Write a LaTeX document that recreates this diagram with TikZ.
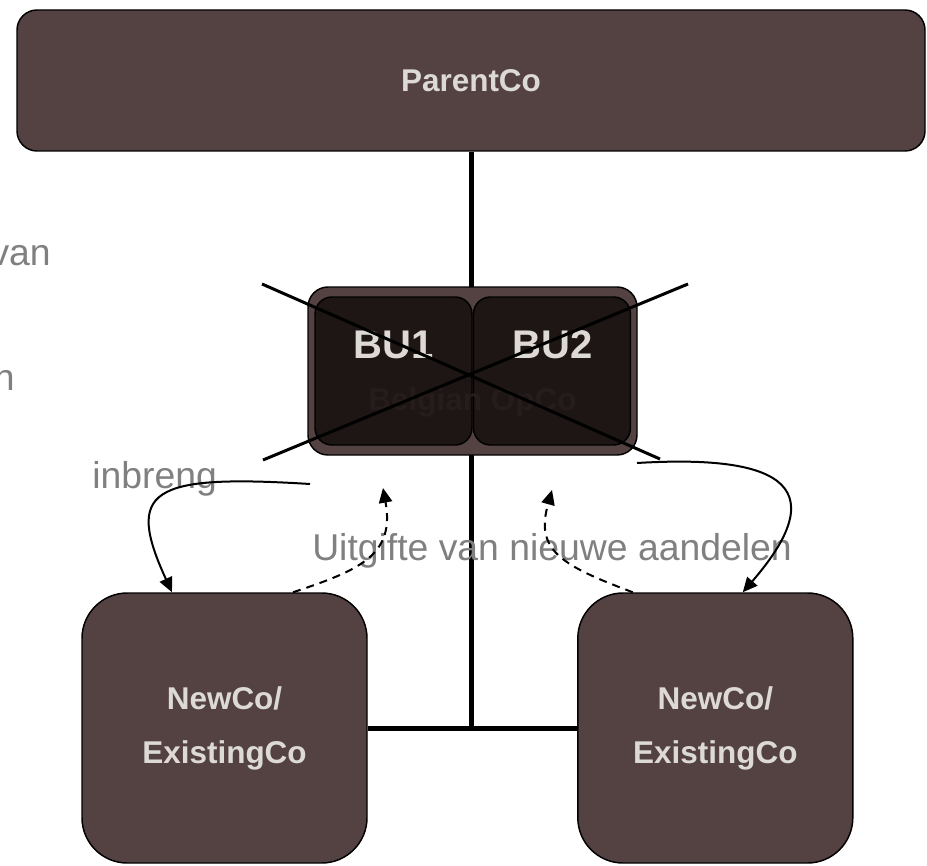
\documentclass[tikz,border=0pt]{standalone}
\usepackage{fontspec}
\setmainfont{Liberation Sans}
\usepackage{tikz}
\usetikzlibrary{arrows.meta, positioning, backgrounds}

\definecolor{cobrown}{RGB}{84,66,66}
\definecolor{budark}{RGB}{30,21,21}
\definecolor{colabel}{RGB}{221,218,213}
\definecolor{notegray}{RGB}{128,128,128}
\definecolor{ghost}{RGB}{38,28,28}

\begin{document}
\begin{tikzpicture}[x=0.75pt,y=-0.75pt]
  \tikzstyle{company}=[draw=black,line width=1.1pt,fill=cobrown,text=colabel,
    font=\fontsize{23.6}{40.5}\selectfont\bfseries,align=center]
  \tikzstyle{unit}=[draw=black,line width=1.1pt,fill=budark,rounded corners=12.75pt,
    minimum width=117.75pt,minimum height=111pt]
  \tikzstyle{bulabel}=[text=colabel,font=\fontsize{30}{36}\selectfont\bfseries,inner sep=0pt,anchor=base]
  \tikzstyle{note}=[text=notegray,font=\fontsize{28}{34}\selectfont,inner sep=0pt]
  \tikzstyle{trunk}=[line width=3.75pt]
  \tikzstyle{crossline}=[line width=2.25pt]
  \tikzstyle{flow}=[line width=1.5pt,-{Triangle[length=11pt,width=10pt]}]
  \tikzstyle{issue}=[flow,dash pattern=on 6pt off 4.5pt]

  \useasboundingbox (0,0) rectangle (927,866);

  \node[company,rounded corners=15pt,minimum width=681pt,minimum height=105.75pt]
    (parent) at (471,80.5) {ParentCo};
  \node[company,rounded corners=15pt,minimum width=246.75pt,minimum height=126pt]
    (opco) at (472.5,371) {};
  \node[unit] (bu1) at (393.5,371) {};
  \node[unit] (bu2) [right=0pt of bu1] {};
  \node[company,rounded corners=34pt,minimum width=213.75pt,minimum height=202.5pt]
    (n1) at (224.5,728) {NewCo/\\ExistingCo};
  \node[company,rounded corners=34pt,minimum width=206.25pt,minimum height=202.5pt]
    (n2) [right=157pt of n1] {NewCo/\\ExistingCo};

  \node[bulabel] (bu1txt) at (393.5,358) {BU1};
  \node[bulabel] (bu2txt) at (552.5,358) {BU2};
  \node[bulabel,text=ghost,font=\fontsize{23.6}{28}\selectfont\bfseries]
    (opcotxt) at (472.5,410) {Belgian OpCo};

  % holding lines behind the boxes
  \begin{pgfonlayer}{background}
    \draw[trunk] (parent.south) -- (parent.south |- n1.east);
    \draw[trunk] (n1.east) -- (n2.west);
  \end{pgfonlayer}

  % struck out
  \draw[crossline] (262,284) -- (660,459);
  \draw[crossline] (688,284) -- (263,460);

  \node[note,anchor=base east] (van) at (51,265) {van};
  \node[note,anchor=base east] (ntxt) at (15,390) {n};
  \node[note,anchor=base west] (inbreng) at (92,488) {inbreng};
  \node[note,anchor=base west] (uitgifte) at (312,560) {Uitgifte van nieuwe aandelen};

  \coordinate (inL) at (310,484);
  \coordinate (inR) at (637,463);
  \coordinate (upL) at (383,488);
  \coordinate (upR) at (552,490);

  \draw[flow] (inL) .. controls (150,474) and (125,490) .. ([xshift=-39.4pt]n1.north);
  \draw[flow] (inR) .. controls (770,455) and (840,480) .. ([xshift=20.6pt]n2.north);
  \draw[issue] ([xshift=51.4pt]n1.north) .. controls (360,570) and (395,555) .. (upL);
  \draw[issue] ([xshift=-61.9pt]n2.north) .. controls (560,565) and (535,550) .. (upR);
\end{tikzpicture}
\end{document}
